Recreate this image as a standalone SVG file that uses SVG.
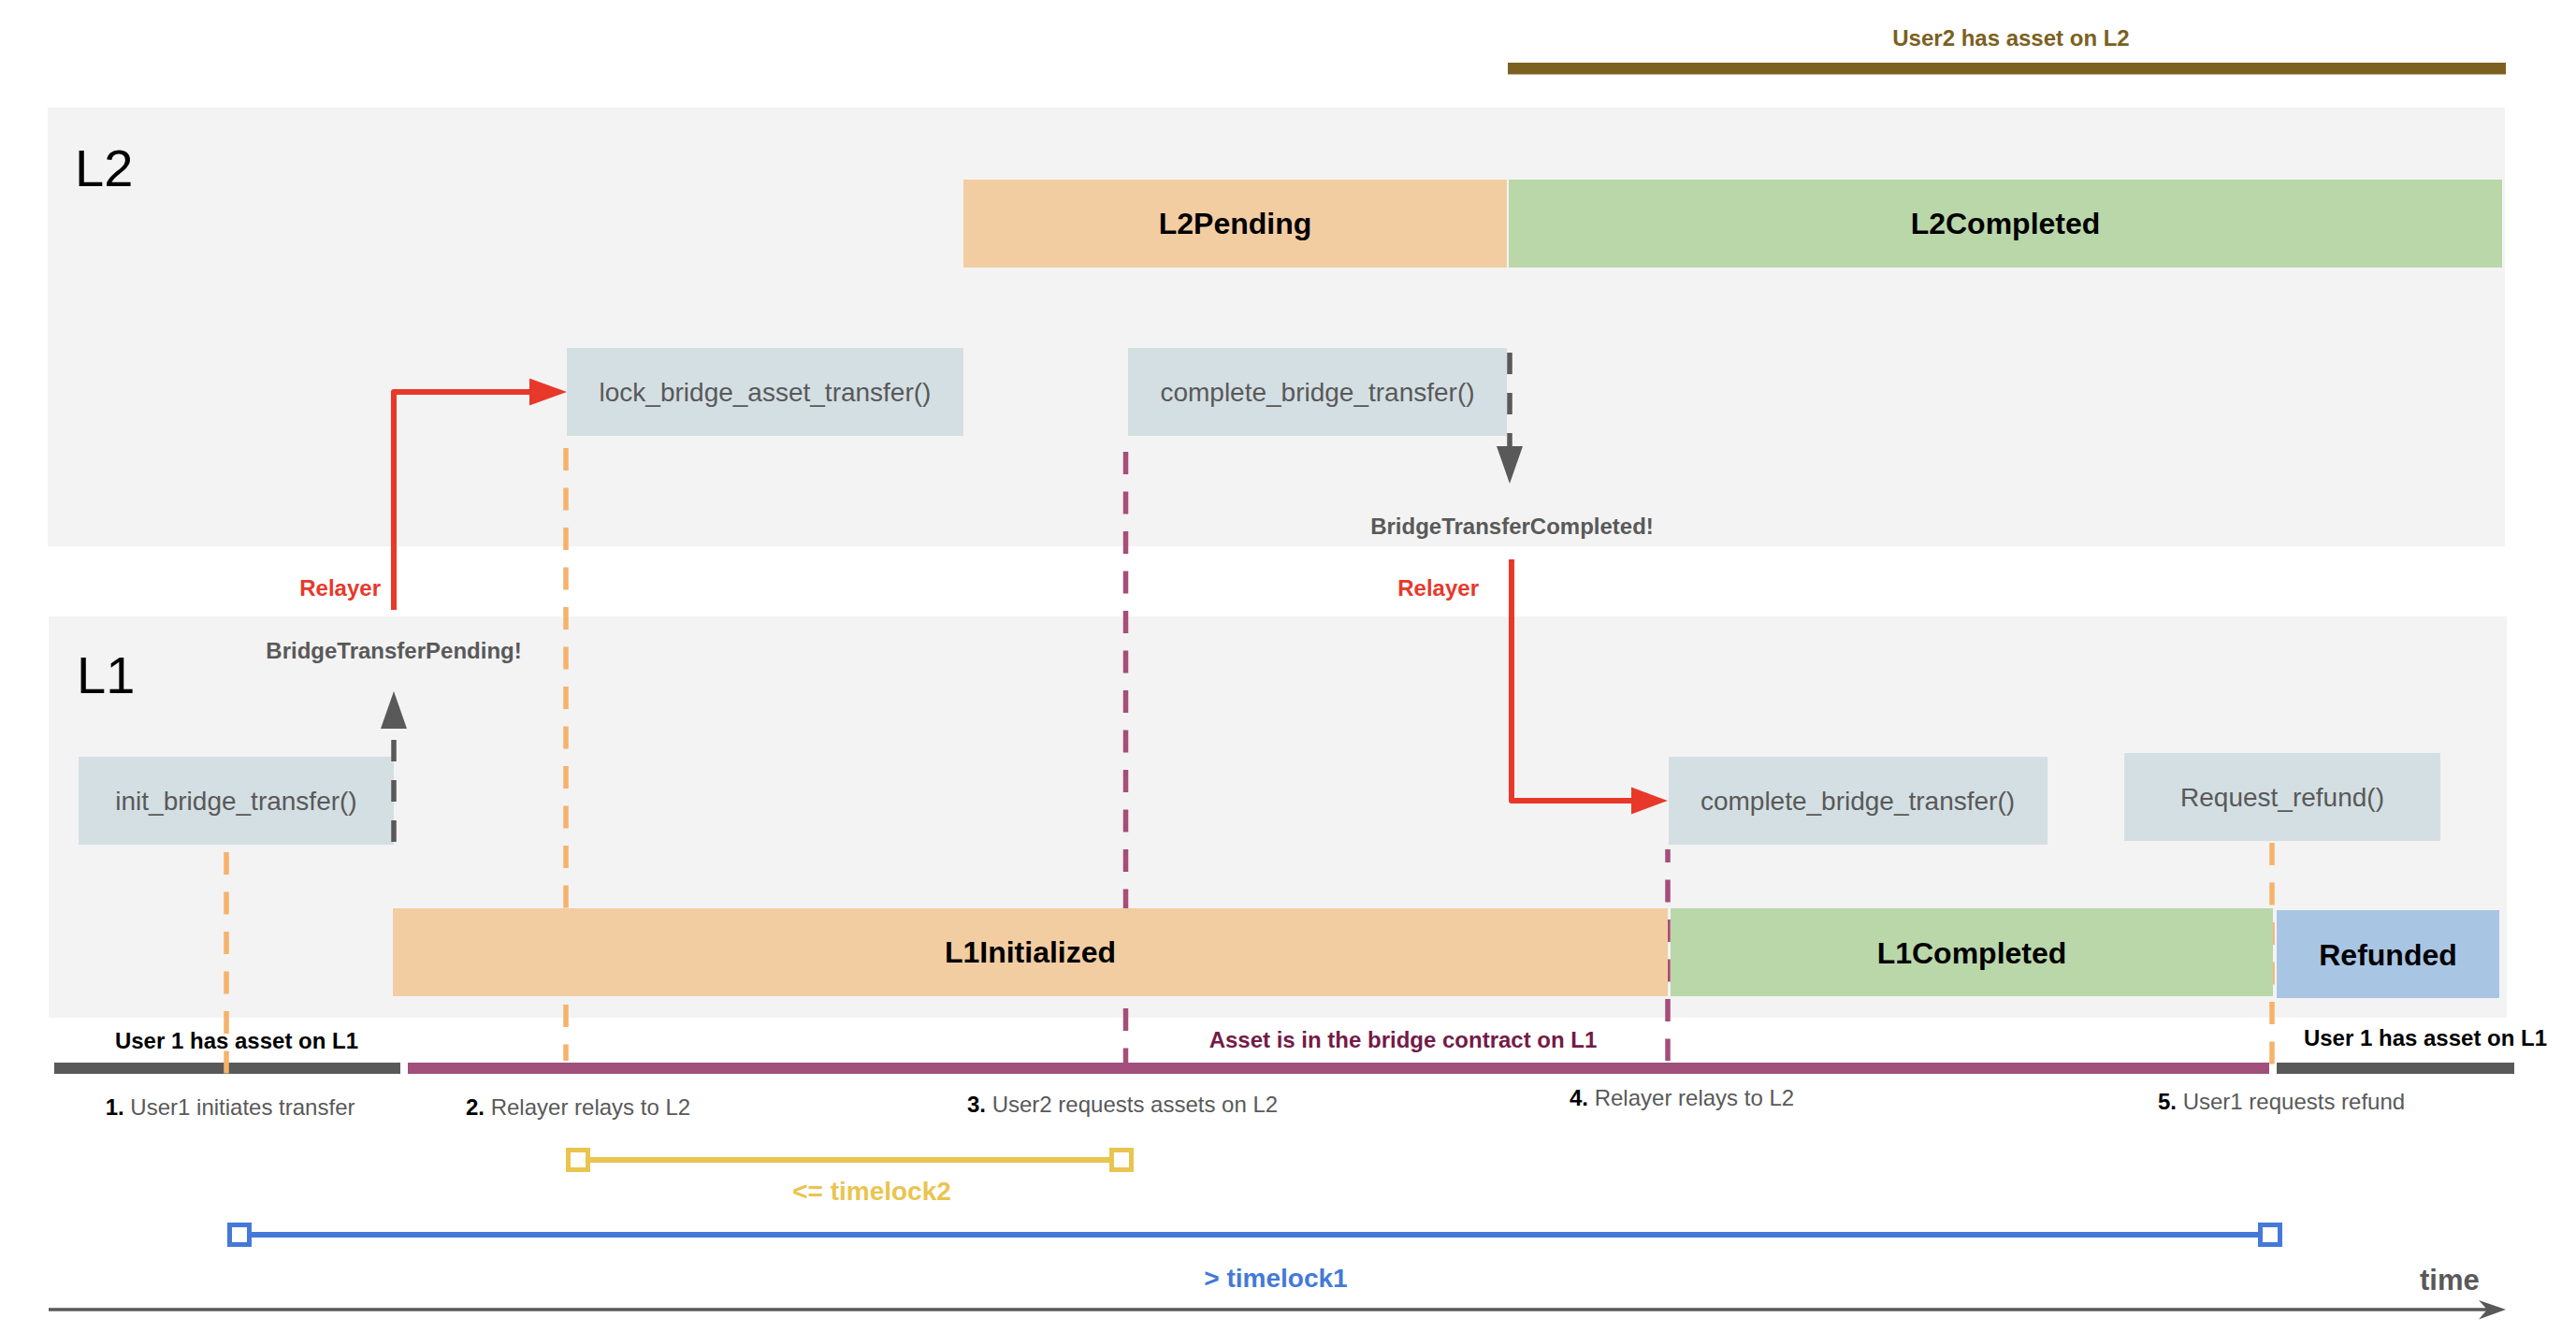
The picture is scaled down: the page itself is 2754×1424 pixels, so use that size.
<svg xmlns="http://www.w3.org/2000/svg" width="2754" height="1424" viewBox="0 0 2754 1424">
<style>
text{font-family:"Liberation Sans",Arial,sans-serif}
.panel{fill:#f3f3f3}
.fn{fill:#d4dfe3}
.fnt{font-size:28px;fill:#595959;text-anchor:middle}
.st{font-size:32px;font-weight:bold;fill:#000;text-anchor:middle}
.big{font-size:56px;fill:#000}
.lbl{font-size:24px;font-weight:bold;text-anchor:middle}
.step{font-size:24px;fill:#595959}
.step .n{font-weight:bold;fill:#000}
.red{fill:#e8382a}
.redl{stroke:#e8382a;stroke-width:6;fill:none;stroke-linejoin:round}
.darkd{stroke:#595959;stroke-width:5.5;fill:none;stroke-dasharray:23 20}
.od{stroke:#f6b26b;stroke-width:5.5;fill:none;stroke-dasharray:24 18.5}
.pd{stroke:#a64d79;stroke-width:5.5;fill:none;stroke-dasharray:24 18.5}
.tl{font-size:28px;font-weight:bold;text-anchor:middle}
</style>

<g id="panels">
<rect id="L2-panel" class="panel" x="51" y="115" width="2627" height="469"/>
<rect id="L1-panel" class="panel" x="52" y="659" width="2628" height="429"/>
<text class="big" x="80" y="199">L2</text>
<text class="big" x="82" y="741">L1</text>
</g>

<g id="ownership-bars">
<rect x="1612" y="67" width="1067" height="12.5" fill="#7b6020"/>
<text class="lbl" x="2150" y="49" fill="#7b6020">User2 has asset on L2</text>
<rect x="58" y="1136" width="370" height="12" fill="#595959"/>
<text class="lbl" x="253" y="1121" fill="#000">User 1 has asset on L1</text>
<rect x="436" y="1136" width="1990" height="12" fill="#a0507a"/>
<text class="lbl" x="1500" y="1120" fill="#741b47">Asset is in the bridge contract on L1</text>
<rect x="2434" y="1136" width="254" height="12" fill="#595959"/>
<text class="lbl" x="2593" y="1118" fill="#000">User 1 has asset on L1</text>
</g>

<g id="connectors">
<line class="od" x1="242" y1="911" x2="242" y2="1148"/>
<line class="od" x1="605" y1="479" x2="605" y2="1134"/>
<line class="pd" x1="1203.5" y1="483" x2="1203.5" y2="1150"/>
<line class="pd" x1="1783" y1="908" x2="1783" y2="1134" stroke-dashoffset="10"/>
<line class="od" x1="2429" y1="901" x2="2429" y2="1140"/>
</g>

<g id="state-L2Pending"><rect x="1030" y="192" width="581" height="94" fill="#f2cda2"/><text class="st" x="1320.5" y="250">L2Pending</text></g>
<g id="state-L2Completed"><rect x="1613" y="192" width="1062" height="94" fill="#bad7aa"/><text class="st" x="2144" y="250">L2Completed</text></g>
<g id="state-L1Initialized"><rect x="420" y="971" width="1363" height="94" fill="#f2cda2"/><text class="st" x="1101.5" y="1029">L1Initialized</text></g>
<g id="state-L1Completed"><rect x="1786" y="971" width="644" height="94" fill="#bad7aa"/><text class="st" x="2108" y="1030">L1Completed</text></g>
<g id="state-Refunded"><rect x="2434" y="973" width="238" height="94" fill="#a9c5e4"/><text class="st" x="2553" y="1032">Refunded</text></g>

<g id="fn-lock"><rect class="fn" x="606" y="372" width="424" height="94"/><text class="fnt" x="818" y="429">lock_bridge_asset_transfer()</text></g>
<g id="fn-complete-L2"><rect class="fn" x="1206" y="372" width="405" height="94"/><text class="fnt" x="1408.5" y="429">complete_bridge_transfer()</text></g>
<g id="fn-init"><rect class="fn" x="84" y="809" width="337" height="94"/><text class="fnt" x="252.5" y="866">init_bridge_transfer()</text></g>
<g id="fn-complete-L1"><rect class="fn" x="1784" y="809" width="405" height="94"/><text class="fnt" x="1986" y="866">complete_bridge_transfer()</text></g>
<g id="fn-refund"><rect class="fn" x="2271" y="805" width="338" height="94"/><text class="fnt" x="2440" y="862">Request_refund()</text></g>

<g id="event-arrows">
<line class="darkd" x1="421" y1="900" x2="421" y2="779"/>
<polygon points="421,739 407,779 435,779" fill="#595959"/>
<text class="lbl" x="421" y="704" fill="#595959">BridgeTransferPending!</text>
<line class="darkd" x1="1614" y1="377" x2="1614" y2="479" stroke-dasharray="24 19"/>
<polygon points="1614,517 1600,477 1628,477" fill="#595959"/>
<text class="lbl" x="1616.5" y="571" fill="#595959">BridgeTransferCompleted!</text>
</g>

<g id="relayer-arrows">
<path class="redl" d="M421,652 V419 H570"/>
<polygon class="red" points="606,419 566,404.5 566,433.5"/>
<text class="lbl red" x="407" y="637" text-anchor="end" style="text-anchor:end">Relayer</text>
<path class="redl" d="M1616,598 V856 H1748"/>
<polygon class="red" points="1783,856 1744,841.5 1744,870.5"/>
<text class="lbl red" x="1581" y="637" style="text-anchor:end">Relayer</text>
</g>

<g id="steps">
<text class="step" x="112.7" y="1191.7"><tspan class="n">1.</tspan> User1 initiates transfer</text>
<text class="step" x="498" y="1192"><tspan class="n">2.</tspan> Relayer relays to L2</text>
<text class="step" x="1034" y="1189"><tspan class="n">3.</tspan> User2 requests assets on L2</text>
<text class="step" x="1678" y="1182"><tspan class="n">4.</tspan> Relayer relays to L2</text>
<text class="step" x="2307" y="1186"><tspan class="n">5.</tspan> User1 requests refund</text>
</g>

<g id="timelock2">
<line x1="630" y1="1240" x2="1186" y2="1240" stroke="#e9c44f" stroke-width="6"/>
<rect x="607.5" y="1229.5" width="21" height="21" fill="#fff" stroke="#e9c44f" stroke-width="5"/>
<rect x="1188.5" y="1229.5" width="21" height="21" fill="#fff" stroke="#e9c44f" stroke-width="5"/>
<text class="tl" x="932" y="1283" fill="#e9c44f">&lt;= timelock2</text>
</g>

<g id="timelock1">
<line x1="268" y1="1320" x2="2414" y2="1320" stroke="#4579d8" stroke-width="6"/>
<rect x="245.5" y="1309.5" width="21" height="21" fill="#fff" stroke="#4579d8" stroke-width="5"/>
<rect x="2416.5" y="1309.5" width="21" height="21" fill="#fff" stroke="#4579d8" stroke-width="5"/>
<text class="tl" x="1364" y="1376" fill="#4579d8">&gt; timelock1</text>
</g>

<g id="time-axis">
<line x1="52" y1="1400" x2="2662" y2="1400" stroke="#595959" stroke-width="3.5"/>
<polygon points="2679,1400 2650,1390 2659,1400 2650,1410.5" fill="#595959"/>
<text x="2587" y="1379" font-size="31" font-weight="bold" fill="#595959">time</text>
</g>
</svg>
